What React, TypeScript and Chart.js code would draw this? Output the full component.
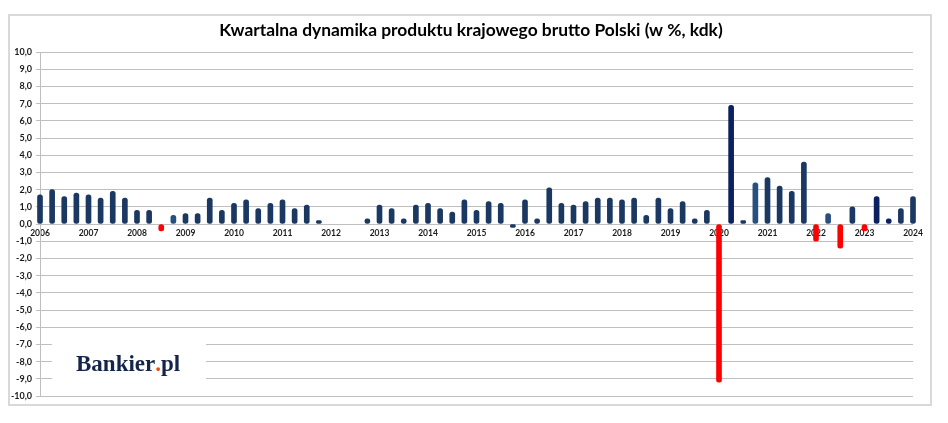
import React, { useEffect, useRef } from 'react';
import { Chart, registerables } from 'chart.js';

Chart.register(...registerables);

const years = ['2006', '2007', '2008', '2009', '2010', '2011', '2012', '2013', '2014', '2015', '2016', '2017', '2018', '2019', '2020', '2021', '2022', '2023', '2024'];
const quarterNames = ['Q1', 'Q2', 'Q3', 'Q4'];

// Quarterly GDP change q/q (%), 2006 Q1 .. 2024 Q1 (null = no bar drawn)
const gdpQoQ: (number | null)[] = [
  1.7, 2.0, 1.6, 1.8,
  1.7, 1.5, 1.9, 1.5,
  0.8, 0.8, -0.4, 0.5,
  0.6, 0.6, 1.5, 0.8,
  1.2, 1.4, 0.9, 1.2,
  1.4, 0.9, 1.1, 0.2,
  null, null, null, 0.3,
  1.1, 0.9, 0.3, 1.1,
  1.2, 0.9, 0.7, 1.4,
  0.8, 1.3, 1.2, -0.2,
  1.4, 0.3, 2.1, 1.2,
  1.1, 1.3, 1.5, 1.5,
  1.4, 1.5, 0.5, 1.5,
  0.9, 1.3, 0.3, 0.8,
  -9.2, 6.9, 0.2, 2.4,
  2.7, 2.2, 1.9, 3.6,
  -1.0, 0.6, -1.4, 1.0,
  -0.4, 1.6, 0.3, 0.9,
  1.6,
];

const redBars = [10, 56, 64, 66, 68];
const darkBars = [57, 69, 70];
const lightBars = [11, 59, 65];

const titleText = 'Kwartalna dynamika produktu krajowego brutto Polski (w %, kdk)';
const yMin = -10;
const yMax = 10;

const categories = years.flatMap((y) => quarterNames.map((q) => `${y} ${q}`)).slice(0, gdpQoQ.length);

const barColors = gdpQoQ.map((_, i) => {
  if (redBars.includes(i)) return '#FF0000';
  if (darkBars.includes(i)) return '#0B2060';
  if (lightBars.includes(i)) return '#25507F';
  return '#1B3862';
});

const overlayPlugin = {
  id: 'overlayPlugin',
  afterDraw(chart: any) {
    const ctx = chart.ctx;
    ctx.save();
    // title
    ctx.fillStyle = '#000000';
    ctx.font = 'bold 17.4px Lato, "Open Sans", sans-serif';
    ctx.textAlign = 'center';
    ctx.textBaseline = 'alphabetic';
    ctx.fillText(titleText, 463, 28);
    // logo
    ctx.fillStyle = '#FFFFFF';
    ctx.fillRect(44, 323, 154, 60);
    ctx.font = 'bold 23px "Liberation Serif", "DejaVu Serif", serif';
    ctx.textAlign = 'left';
    let x = 68;
    const base = 363;
    ctx.fillStyle = '#14244A';
    ctx.fillText('Bankier', x, base);
    x += ctx.measureText('Bankier').width;
    ctx.fillStyle = '#E8501E';
    ctx.fillText('.', x, base);
    x += ctx.measureText('.').width;
    ctx.fillStyle = '#14244A';
    ctx.fillText('pl', x, base);
    ctx.restore();
  },
};

export default function App() {
  const canvasRef = useRef<HTMLCanvasElement | null>(null);

  useEffect(() => {
    if (!canvasRef.current) return;
    const chart = new Chart(canvasRef.current, {
      type: 'bar',
      data: {
        labels: categories,
        datasets: [
          {
            data: gdpQoQ,
            backgroundColor: barColors,
            barThickness: 5,
            borderRadius: 2.5,
            borderSkipped: false,
            clip: false as any,
          },
        ],
      },
      options: {
        animation: false,
        responsive: true,
        maintainAspectRatio: false,
        layout: { padding: { left: 0, top: 44, right: 27, bottom: 27 } },
        plugins: {
          legend: { display: false },
          title: { display: false },
          tooltip: { enabled: false },
        },
        scales: {
          x: {
            type: 'category',
            position: { y: 0 } as any,
            offset: false,
            grid: { display: false, drawTicks: false },
            border: { display: false },
            ticks: {
              autoSkip: false,
              maxRotation: 0,
              minRotation: 0,
              padding: 4,
              color: '#1A1A1A',
              font: { family: 'Lato, "Open Sans", sans-serif', size: 8.5, weight: 'bold' },
              callback: (_v: any, i: number) => (i % 4 === 0 ? years[i / 4] : ''),
            },
          },
          y: {
            min: yMin,
            max: yMax,
            afterFit: (scale: any) => {
              scale.width = 32;
            },
            grid: { color: '#BFBFBF', lineWidth: 1, tickLength: 4, drawTicks: true },
            border: { display: true, color: '#BFBFBF', width: 1 },
            ticks: {
              stepSize: 1,
              padding: 4,
              color: '#1A1A1A',
              font: { family: 'Lato, "Open Sans", sans-serif', size: 9, weight: 'bold' },
              callback: (v: any) => Number(v).toFixed(1).replace('.', ','),
            },
          },
        },
      },
      plugins: [overlayPlugin],
    });
    if ((document as any).fonts && (document as any).fonts.ready) {
      (document as any).fonts.ready.then(() => chart.update());
    }
    return () => chart.destroy();
  }, []);

  return (
    <div style={{ position: 'relative', width: 932, height: 415 }}>
      <div
        style={{
          position: 'absolute',
          left: 0,
          top: 6,
          width: 924,
          height: 392,
          border: '2px solid #D9D9D9',
          boxSizing: 'border-box',
        }}
      />
      <div style={{ position: 'absolute', left: 0, top: 0, width: 932, height: 415 }}>
        <canvas ref={canvasRef} />
      </div>
    </div>
  );
}
